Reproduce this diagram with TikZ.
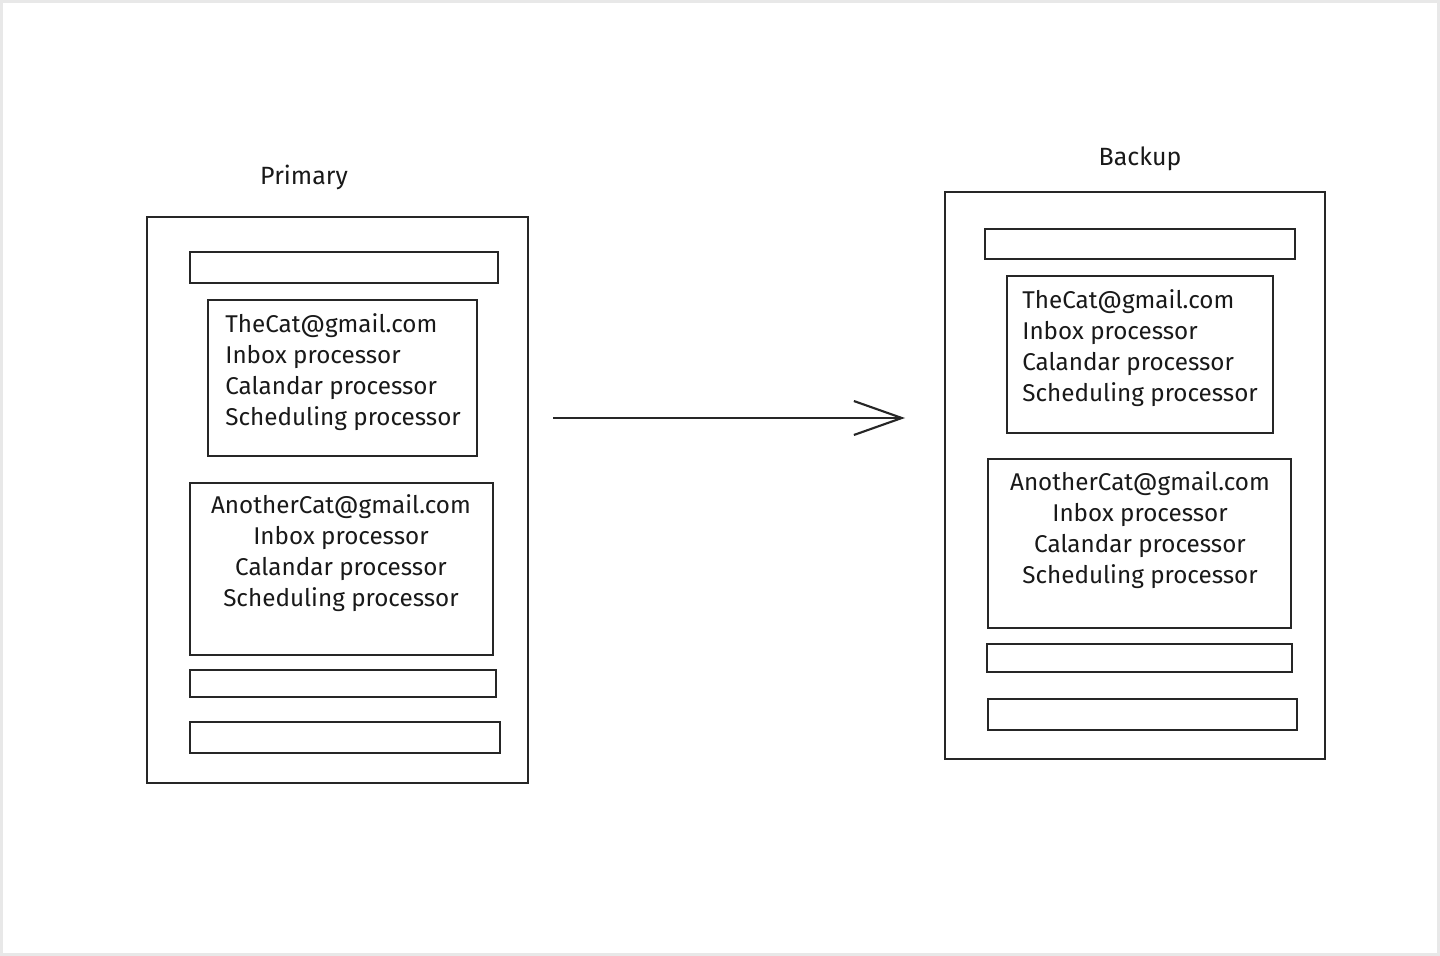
\documentclass[tikz,border=0pt]{standalone}
\usepackage{fontspec}
\setmainfont{Fira Sans}
\usetikzlibrary{arrows.meta}
\tikzset{
  sketch/.style={draw=black!85, line width=1.2pt},
  title/.style={font=\fontsize{14.2}{16}\selectfont, text=black!90, inner sep=0pt},
  mailtext/.style={font=\fontsize{13.8}{17.6}\selectfont, text=black!90, inner sep=0pt},
}

\begin{document}
\begin{tikzpicture}[x=0.02cm, y=-0.02cm]
    \useasboundingbox (0,0) rectangle (1440,956);

    %Rahmen
    \draw[fill=white, draw=black!9, line width=2pt] (1,1) rectangle (1439,955);

    %Primary
    \node[title] (primarytitle) at (304,177) {Primary};
    \draw[sketch] (147,217) rectangle (528,783);
    \draw[sketch] (190,252) rectangle (498,283);
    \draw[sketch] (208,300) rectangle (477,456);
    \node[mailtext, align=left, anchor=west] (primarymail1) at (225,372)
        {TheCat@gmail.com\\Inbox processor\\Calandar processor\\Scheduling processor};
    \draw[sketch] (190,483) rectangle (493,655);
    \node[mailtext, align=center] (primarymail2) at (341,553)
        {AnotherCat@gmail.com\\Inbox processor\\Calandar processor\\Scheduling processor};
    \draw[sketch] (190,670) rectangle (496,697);
    \draw[sketch] (190,722) rectangle (500,753);

    %Backup
    \node[title] (backuptitle) at (1140,159) {Backup};
    \draw[sketch] (945,192) rectangle (1325,759);
    \draw[sketch] (985,229) rectangle (1295,259);
    \draw[sketch] (1007,276) rectangle (1273,433);
    \node[mailtext, align=left, anchor=west] (backupmail1) at (1022,348)
        {TheCat@gmail.com\\Inbox processor\\Calandar processor\\Scheduling processor};
    \draw[sketch] (988,459) rectangle (1291,628);
    \node[mailtext, align=center] (backupmail2) at (1140,530)
        {AnotherCat@gmail.com\\Inbox processor\\Calandar processor\\Scheduling processor};
    \draw[sketch] (987,644) rectangle (1292,672);
    \draw[sketch] (988,699) rectangle (1297,730);

    %Pfeil
    \coordinate (sendfrom) at (553,418);
    \coordinate (sendto) at (905,418);
    \draw[sketch, -{Straight Barb[length=0.96cm, width=0.68cm]}]
        (sendfrom) -- (sendto);

\end{tikzpicture}
\end{document}
